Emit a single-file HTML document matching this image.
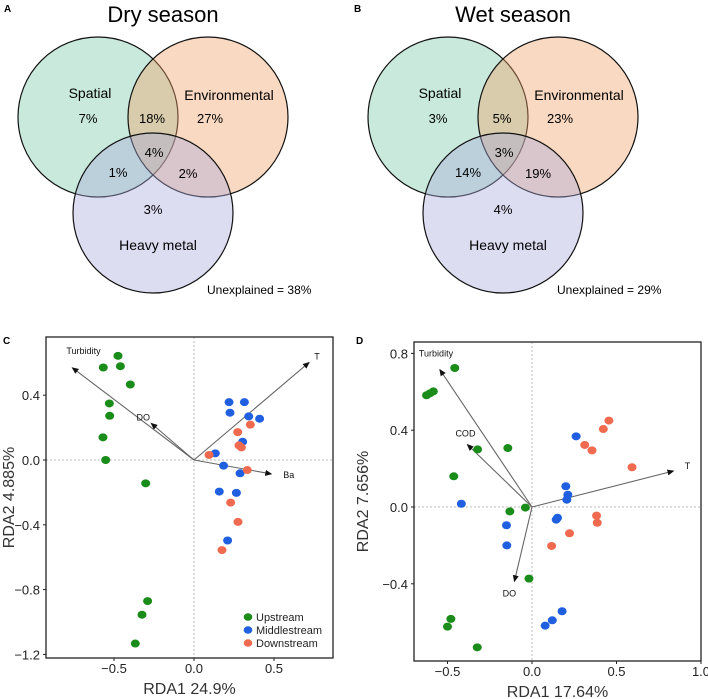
<!DOCTYPE html>
<html><head><meta charset="utf-8"><style>
html,body{margin:0;padding:0;background:#fff;}
svg{display:block;font-family:"Liberation Sans",Arial,sans-serif;}
</style></head><body>
<svg id="fig" width="708" height="699" viewBox="0 0 708 699" xmlns="http://www.w3.org/2000/svg">
<defs>
<marker id="ah" markerWidth="8" markerHeight="8" refX="6" refY="3" orient="auto" markerUnits="userSpaceOnUse"><path d="M0,0 L7,3 L0,6 z" fill="#111"/></marker>
</defs>
<g id="venns"></g>
<g id="panelC"></g>
<g id="panelD"></g>
</svg>
<script>
const NS="http://www.w3.org/2000/svg";
function mk(p,tag,attrs,txt){const e=document.createElementNS(NS,tag);for(const k in attrs)e.setAttribute(k,attrs[k]);if(txt!==undefined)e.textContent=txt;p.appendChild(e);return e;}

// ---- Venn data ----
const vennTitles=["Dry season","Wet season"];
const vennLetters=["A","B"];
const dryValues=["7%","18%","27%","1%","4%","2%","3%"];
const wetValues=["3%","5%","23%","14%","3%","19%","4%"];
const unexplained=["38%","29%"];

const venns=document.getElementById('venns');
[dryValues,wetValues].forEach((vals,i)=>{
  const ox=i*350;
  const g=mk(venns,'g',{});
  
  
  const l=mk(g,'text',{x:ox+4,y:12,'font-size':10,'font-weight':'bold'},vennLetters[i]);
  
  
  const t=mk(g,'text',{x:ox+163,y:22,'font-size':22,'text-anchor':'middle'},vennTitles[i]);
  
  
  const circles=[[98,117,'rgb(120,200,170)','spatial-circle'],[208,117,'rgb(240,160,100)','environmental-circle'],[153,213,'rgb(170,170,220)','heavy-metal-circle']];
  circles.forEach(c=>{
    const ci=mk(g,'circle',{cx:ox+c[0],cy:c[1],r:80,fill:c[2],'fill-opacity':0.4,stroke:'#111','stroke-width':1.2});
    
    
  });
  const labels=[["Spatial",90,98],["Environmental",229,100],["Heavy metal",158,250]];
  labels.forEach(lb=>{
    const e=mk(g,'text',{x:ox+lb[1],y:lb[2],'font-size':14,'text-anchor':'middle'},lb[0]);
    
    
  });
  const pos=[[88,123],[152,123],[210,123],[118,177],[154,157],[188,178],[153,214]];
  vals.forEach((v,k)=>{
    const e=mk(g,'text',{x:ox+pos[k][0],y:pos[k][1],'font-size':13,'text-anchor':'middle'},v);
    
    
  });
  const u=mk(g,'text',{x:ox+207,y:294,'font-size':12},"Unexplained = "+unexplained[i]);
  
  
});

// ---- Panel C data ----
const cUpX=[-0.475,-0.567,-0.46,-0.398,-0.529,-0.527,-0.569,-0.552,-0.302,-0.29,-0.325,-0.367];
const cUpY=[0.643,0.571,0.579,0.466,0.349,0.273,0.140,0,-0.144,-0.871,-0.955,-1.133];
const cMidX=[0.219,0.315,0.225,0.342,0.41,0.304,0.133,0.185,0.288,0.158,0.265,0.21];
const cMidY=[0.357,0.357,0.292,0.269,0.255,0.113,0.041,-0.035,-0.082,-0.195,-0.203,-0.497];
const cDownX=[0.273,0.352,0.281,0.296,0.094,0.333,0.229,0.275,0.175];
const cDownY=[0.172,0.218,0.09,0.078,0.031,-0.062,-0.263,-0.382,-0.556];
const cArrowNames=["Turbidity","DO","T","Ba"];
const cArrowX=[-0.76,-0.267,0.719,0.483];
const cArrowY=[0.569,0.226,0.602,-0.086];
const cXTicks=[-0.5,0,0.5];
const cXTickLabels=["-0.5","0.0","0.5"];
const cYTicks=[0.4,0,-0.4,-0.8,-1.2];
const cYTickLabels=["0.4","0.0","-0.4","-0.8","-1.2"];

// ---- Panel D data ----
const dUpX=[-0.457,-0.584,-0.624,-0.604,-0.143,-0.322,-0.463,-0.039,-0.131,-0.018,-0.48,-0.5,-0.324];
const dUpY=[0.724,0.602,0.582,0.592,0.307,0.3,0.16,-0.003,-0.023,-0.373,-0.583,-0.623,-0.731];
const dMidX=[-0.418,0.261,0.2,0.212,0.206,0.151,0.143,-0.151,-0.149,0.178,0.12,0.078];
const dMidY=[0.017,0.368,0.108,0.064,0.038,-0.056,-0.066,-0.095,-0.2,-0.543,-0.59,-0.618];
const dDownX=[0.455,0.422,0.312,0.355,0.592,0.382,0.386,0.222,0.116];
const dDownY=[0.45,0.406,0.323,0.295,0.207,-0.045,-0.082,-0.137,-0.203];
const dArrowNames=["Turbidity","COD","T","DO"];
const dArrowX=[-0.545,-0.382,0.837,-0.104];
const dArrowY=[0.715,0.325,0.1875,-0.387];
const dXTicks=[-0.5,0,0.5,1.0];
const dXTickLabels=["-0.5","0.0","0.5","1.0"];
const dYTicks=[0.8,0.4,0,-0.4];
const dYTickLabels=["0.8","0.4","0.0","-0.4"];

const colUp="#1a8c1a",colMid="#1f5fe0",colDown="#f06a50";

function panel(gid,cfg){
  const g=document.getElementById(gid);
  
  
  const sx=v=>cfg.x0+v*cfg.kx, sy=v=>cfg.y0-v*cfg.ky;
  const L=mk(g,'text',{x:cfg.letterX,y:cfg.letterY,'font-size':10,'font-weight':'bold'},cfg.letter);
  
  
  const zx=mk(g,'line',{x1:sx(0),x2:sx(0),y1:cfg.top,y2:cfg.bottom,stroke:'#bbb','stroke-dasharray':'2,2','stroke-width':1});
  
  
  const zy=mk(g,'line',{x1:cfg.left,x2:cfg.right,y1:sy(0),y2:sy(0),stroke:'#bbb','stroke-dasharray':'2,2','stroke-width':1});
  
  
  const fr=mk(g,'rect',{x:cfg.left,y:cfg.top,width:cfg.right-cfg.left,height:cfg.bottom-cfg.top,fill:'none',stroke:'#222','stroke-width':1.3});
  
  
  cfg.xt.forEach((v,i)=>{
    const tk=mk(g,'line',{x1:sx(v),x2:sx(v),y1:cfg.bottom,y2:cfg.bottom+3,stroke:'#222'});
    
    
    const t=mk(g,'text',{x:sx(v),y:cfg.bottom+15,'font-size':13,'text-anchor':'middle',fill:'#222'},cfg.xl[i].replace('-','\u2212'));
    
    
  });
  cfg.yt.forEach((v,i)=>{
    const tk=mk(g,'line',{x1:cfg.left-3,x2:cfg.left,y1:sy(v),y2:sy(v),stroke:'#222'});
    
    
    const t=mk(g,'text',{x:cfg.left-6,y:sy(v)+5,'font-size':13,'text-anchor':'end',fill:'#222'},cfg.yl[i].replace('-','\u2212'));
    
    
  });
  const xt=mk(g,'text',{x:(cfg.left+cfg.right)/2,y:cfg.bottom+36,'font-size':16,'text-anchor':'middle',fill:'#333'},cfg.xtitle);
  
  
  const yt=mk(g,'text',{x:0,y:0,'font-size':16,'text-anchor':'middle',fill:'#333',transform:`translate(${cfg.ytx},${(cfg.top+cfg.bottom)/2}) rotate(-90)`},cfg.ytitle);
  
  
  cfg.an.forEach((n,i)=>{
    const a=mk(g,'line',{x1:sx(0),y1:sy(0),x2:sx(cfg.ax[i]),y2:sy(cfg.ay[i]),stroke:'#666','stroke-width':1.1,'marker-end':'url(#ah)'});
    
    
    const o=cfg.lo[i];
    const t=mk(g,'text',{x:sx(cfg.ax[i])+o[0],y:sy(cfg.ay[i])+o[1],'font-size':o[2]||9,'text-anchor':o[3]||'middle',fill:'#111'},n);
    
    
  });
  const groups=[[cfg.ux,cfg.uy,colUp,'upstream'],[cfg.mx,cfg.my,colMid,'middlestream'],[cfg.dx,cfg.dy,colDown,'downstream']];
  groups.forEach(gr=>{
    gr[0].forEach((v,i)=>{
      const p=mk(g,'ellipse',{cx:sx(v),cy:sy(gr[1][i]),rx:4.5,ry:4,fill:gr[2]});
      
      
    });
  });
  if(cfg.legend){
    const names=["Upstream","Middlestream","Downstream"],cols=[colUp,colMid,colDown];
    names.forEach((n,i)=>{
      const y=cfg.legend[1]+i*13;
      const c=mk(g,'ellipse',{cx:cfg.legend[0],cy:y,rx:4.3,ry:3.8,fill:cols[i]});
      
      
      const t=mk(g,'text',{x:cfg.legend[0]+8,y:y+4,'font-size':11,fill:'#222'},n);
      
      
    });
  }
}
panel('panelC',{name:'rda-dry-season',letter:'C',letterX:3,letterY:344,left:46,right:333,top:337,bottom:658,x0:194,y0:460,kx:160,ky:162,
  xt:cXTicks,xl:cXTickLabels,yt:cYTicks,yl:cYTickLabels,xtitle:'RDA1 24.9%',ytitle:'RDA2 4.885%',ytx:14,
  an:cArrowNames,ax:cArrowX,ay:cArrowY,lo:[[-6,-14,9,'start'],[-8,-3],[8,-3],[12,4,9,'start']],
  ux:cUpX,uy:cUpY,mx:cMidX,my:cMidY,dx:cDownX,dy:cDownY,legend:[248,617]});
panel('panelD',{name:'rda-wet-season',letter:'D',letterX:356,letterY:344,left:414,right:701,top:342,bottom:661,x0:532,y0:507,kx:169,ky:192,
  xt:dXTicks,xl:dXTickLabels,yt:dYTicks,yl:dYTickLabels,xtitle:'RDA1 17.64%',ytitle:'RDA2 7.656%',ytx:368,
  an:dArrowNames,ax:dArrowX,ay:dArrowY,lo:[[-21,-13,9,'start'],[-2,-8],[14,-2],[-5,15]],
  ux:dUpX,uy:dUpY,mx:dMidX,my:dMidY,dx:dDownX,dy:dDownY,legend:null});
</script>
</body></html>
